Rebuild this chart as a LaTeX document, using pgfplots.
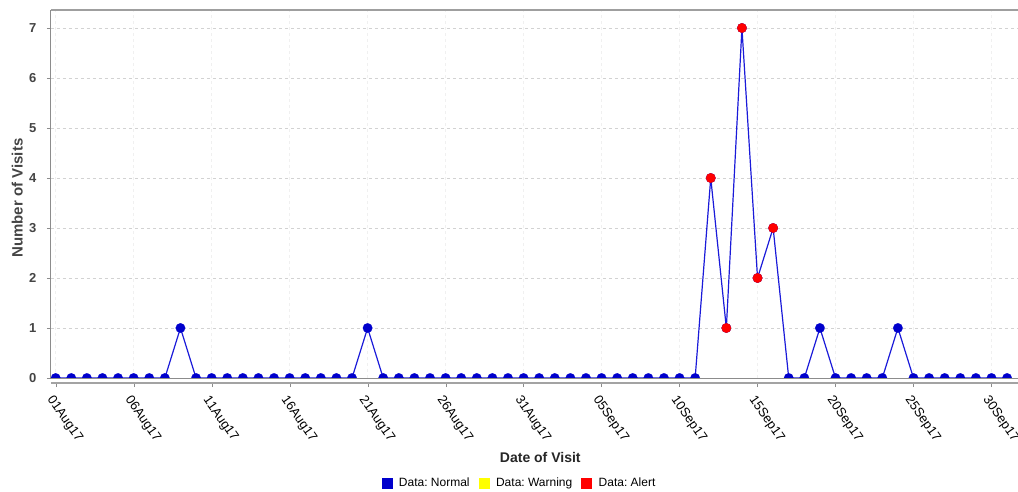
\documentclass[border=0pt]{standalone}
\usepackage{fontspec}
\setmainfont{Liberation Sans}
\usepackage{pgfplots}
\pgfplotsset{compat=1.18}
\definecolor{dblue}{HTML}{0000CC}
\definecolor{lblue}{HTML}{1A1AD9}
\definecolor{axgray}{HTML}{8C8C8C}
\definecolor{txtgray}{HTML}{444444}
\definecolor{wyellow}{HTML}{FFFF00}
\begin{document}
\frenchspacing
\begin{tikzpicture}
\begin{axis}[
 name=ax,
 scale only axis, width=967pt, height=368pt,
 xmin=-0.3, xmax=61.7, ymin=0, ymax=7.36,
 xtick={0,5,...,60},
 xticklabels={01Aug17,06Aug17,11Aug17,16Aug17,21Aug17,26Aug17,31Aug17,05Sep17,10Sep17,15Sep17,20Sep17,25Sep17,30Sep17},
 ytick={0,...,7},
 /pgf/number format/assume math mode=true,
 axis line style={draw=none},
 tick align=outside, xtick pos=bottom, ytick pos=left,
 major tick length=4pt,
 xtick style={axgray, yshift=-5pt},
 ytick style={axgray},
 clip marker paths=true,
 yticklabel style={font=\fontsize{13}{15}\selectfont\bfseries, text=txtgray, xshift=-7pt},
 xticklabel style={xshift=-6pt, yshift=-16pt, font=\fontsize{13}{15}\selectfont, rotate=-55, anchor=west, inner sep=0pt},
 grid=major,
 x grid style={dash pattern=on 3pt off 3pt, gray!12},
 y grid style={dash pattern=on 3pt off 3pt, gray!35},
 xlabel={Date of Visit},
 ylabel={Number of Visits},
 xlabel style={font=\fontsize{14}{16}\selectfont\bfseries, text=black!85, at={(axis description cs:0.506,-0.215)}, anchor=center},
 ylabel style={font=\fontsize{15}{17}\selectfont\bfseries, text=txtgray, at={(axis description cs:-0.035,0.489)}, anchor=center},
 legend style={at={(axis description cs:0.4845,-0.285)}, anchor=center, draw=none, fill=none,
   font=\fontsize{12}{14}\selectfont, legend columns=3,
   /tikz/every odd column/.append style={column sep=5pt},
   /tikz/every even column/.append style={column sep=7pt}},
 legend image code/.code={\fill[#1] (0pt,-5pt) rectangle (10pt,5pt);},
 after end axis/.code={
   \draw[axgray, line width=1pt] (rel axis cs:0,0) -- (rel axis cs:0,1);
   \draw[gray!75, line width=1.6pt] (rel axis cs:0,1) -- (rel axis cs:1,1);
   \draw[gray!90, line width=0.9pt] (rel axis cs:0,0) -- (rel axis cs:1,0);
   \draw[axgray!80, line width=1.3pt] ([yshift=-5pt]rel axis cs:0,0) -- ([yshift=-5pt]rel axis cs:1,0);
 },
]
\addlegendimage{dblue}
\addlegendentry{Data: Normal}
\addlegendimage{wyellow}
\addlegendentry{Data: Warning}
\addlegendimage{red}
\addlegendentry{Data: Alert}
\addplot[lblue, line width=1.2pt, mark=*, mark size=4.8pt, mark options={fill=dblue, draw=dblue, line width=0.1pt}, forget plot] table {
x y
0 0
1 0
2 0
3 0
4 0
5 0
6 0
7 0
8 1
9 0
10 0
11 0
12 0
13 0
14 0
15 0
16 0
17 0
18 0
19 0
20 1
21 0
22 0
23 0
24 0
25 0
26 0
27 0
28 0
29 0
30 0
31 0
32 0
33 0
34 0
35 0
36 0
37 0
38 0
39 0
40 0
41 0
42 4
43 1
44 7
45 2
46 3
47 0
48 0
49 1
50 0
51 0
52 0
53 0
54 1
55 0
56 0
57 0
58 0
59 0
60 0
61 0
};
\addplot[only marks, mark=*, mark size=4.8pt, mark options={fill=red, draw=red, line width=0.1pt}, forget plot] table {
x y
42 4
43 1
44 7
45 2
46 3
};
\end{axis}
\pgfresetboundingbox
\path[use as bounding box] ([shift={(-51pt,-113pt)}]ax.south west) rectangle ([shift={(0pt,10pt)}]ax.north east);
\end{tikzpicture}
\end{document}
